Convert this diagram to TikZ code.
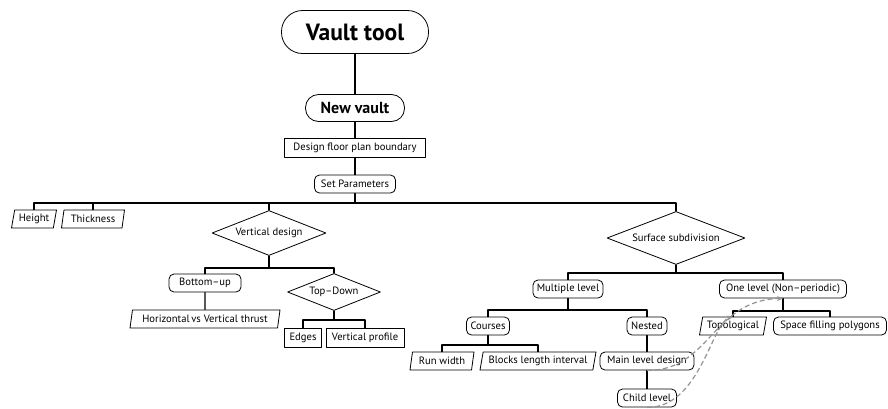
\documentclass[tikz,border=0pt]{standalone}
\usepackage{fontspec}
\setmainfont{PT Sans}
\usetikzlibrary{shapes.geometric,arrows.meta}
\begin{document}
\begin{tikzpicture}[x=1pt, y=-1pt, line cap=round, line join=round,
    txt/.style={font=\fontsize{10.6}{12}\selectfont},
    box/.style={txt, draw, line width=0.8pt, rectangle, minimum height=19pt, inner xsep=2pt, inner ysep=0pt},
    rbox/.style={box, rounded corners=5pt, minimum height=18pt},
    para/.style={txt, draw, line width=0.8pt, trapezium, trapezium left angle=72, trapezium right angle=108,
        trapezium stretches body, minimum height=18pt, inner xsep=1pt, inner ysep=0pt},
    choice/.style={txt, draw, line width=0.8pt, diamond, aspect=2.5, inner sep=0pt},
    link/.style={line width=1.2pt},
    hint/.style={draw=gray!85, dash pattern=on 5pt off 3pt, line width=1.2pt, line cap=butt,
        -{Stealth[length=6pt,width=5pt]}}]

    \useasboundingbox (0,0) rectangle (888,408);

    \node[draw, line width=0.8pt, rounded corners=21pt, minimum width=147pt, minimum height=43pt,
        font=\fontsize{23.5}{26}\selectfont\bfseries] (vt) at (355,32) {Vault tool};
    \node[draw, line width=0.8pt, rounded corners=13pt, minimum width=99pt, minimum height=27pt,
        font=\fontsize{16}{18}\selectfont\bfseries] (nv) at (355,108) {New vault};
    \node[box, minimum width=141pt] (dfpb) at (355,148) {Design floor plan boundary};
    \node[rbox, minimum width=81pt] (sp) at (355,184) {Set Parameters};

    \node[para, minimum width=45pt] (h) at (34,219) {Height};
    \node[para, minimum width=63pt] (th) at (93,219) {Thickness};
    \node[choice, minimum width=114pt, minimum height=45pt] (vd) at (269,233) {Vertical design};
    \node[choice, minimum width=138pt, minimum height=53pt] (ss) at (676,238) {Surface subdivision};

    \node[rbox, minimum width=72pt] (bu) at (205,283) {Bottom--up};
    \node[choice, minimum width=93pt, minimum height=37pt] (td) at (334,292) {Top--Down};
    \node[para, minimum width=150pt] (hvt) at (205,319) {Horizontal\,vs Vertical thrust};
    \node[box, minimum width=37pt] (ed) at (303,338) {Edges};
    \node[box, minimum width=78pt] (vp) at (365,338) {Vertical profile};

    \node[rbox, minimum width=70pt] (ml) at (568,289) {Multiple level};
    \node[rbox, minimum width=127pt] (ol) at (783,289) {One level (Non--periodic)};
    \node[rbox, minimum width=43pt] (co) at (488,326) {Courses};
    \node[rbox, minimum width=40pt] (ne) at (647,326) {Nested};
    \node[para, minimum width=64pt] (rw) at (442,361) {Run width};
    \node[para, minimum width=116pt] (bli) at (538,361) {Blocks length interval};
    \node[rbox, minimum width=94pt] (mld) at (647,361) {Main level design};
    \node[rbox, minimum width=59pt] (cl) at (647,398) {Child level};
    \node[para, minimum width=67pt] (topo) at (733,326) {Topological};
    \node[rbox, minimum width=113pt] (sfp) at (830,326) {Space filling polygons};

    \coordinate (b1) at (355,203);
    \coordinate (b2) at (269,268);
    \coordinate (b3) at (334,320);
    \coordinate (b4) at (676,273);
    \coordinate (b5) at (568,310);
    \coordinate (b6) at (488,345);
    \coordinate (b7) at (783,311);

    \draw[line width=2pt] (vt) -- (nv);
    \draw[link] (nv) -- (dfpb);
    \draw[link] (dfpb) -- (sp);
    \draw[link] (sp) -- (b1);
    \draw[link] (h.north) |- (b1) -| (ss.north);
    \draw[link] (th.north) |- (b1);
    \draw[link] (vd.north) |- (b1);

    \draw[link] (vd.south) -- (b2);
    \draw[link] (bu.north) |- (b2) -| (td.north);
    \draw[link] (bu.south) -- (hvt.north);
    \draw[link] (td.south) -- (b3);
    \draw[link] (ed.north) |- (b3) -| (vp.north);

    \draw[link] (ss.south) -- (b4);
    \draw[link] (ml.north) |- (b4) -| (ol.north);
    \draw[link] (ml.south) -- (b5);
    \draw[link] (co.north) |- (b5) -| (ne.north);
    \draw[link] (co.south) -- (b6);
    \draw[link] (rw.north) |- (b6) -| (bli.north);
    \draw[link] (ne.south) -- (mld.north);
    \draw[link] (mld.south) -- (cl.north);
    \draw[link] (ol.south) -- (b7);
    \draw[link] (topo.north) |- (b7) -| (sfp.north);

    \draw[hint] (mld.south) .. controls (710,371) and (712,300) .. (ol.south);
    \draw[hint] (cl.south) .. controls (700,408) and (712,322) .. (topo.north);

\end{tikzpicture}
\end{document}
